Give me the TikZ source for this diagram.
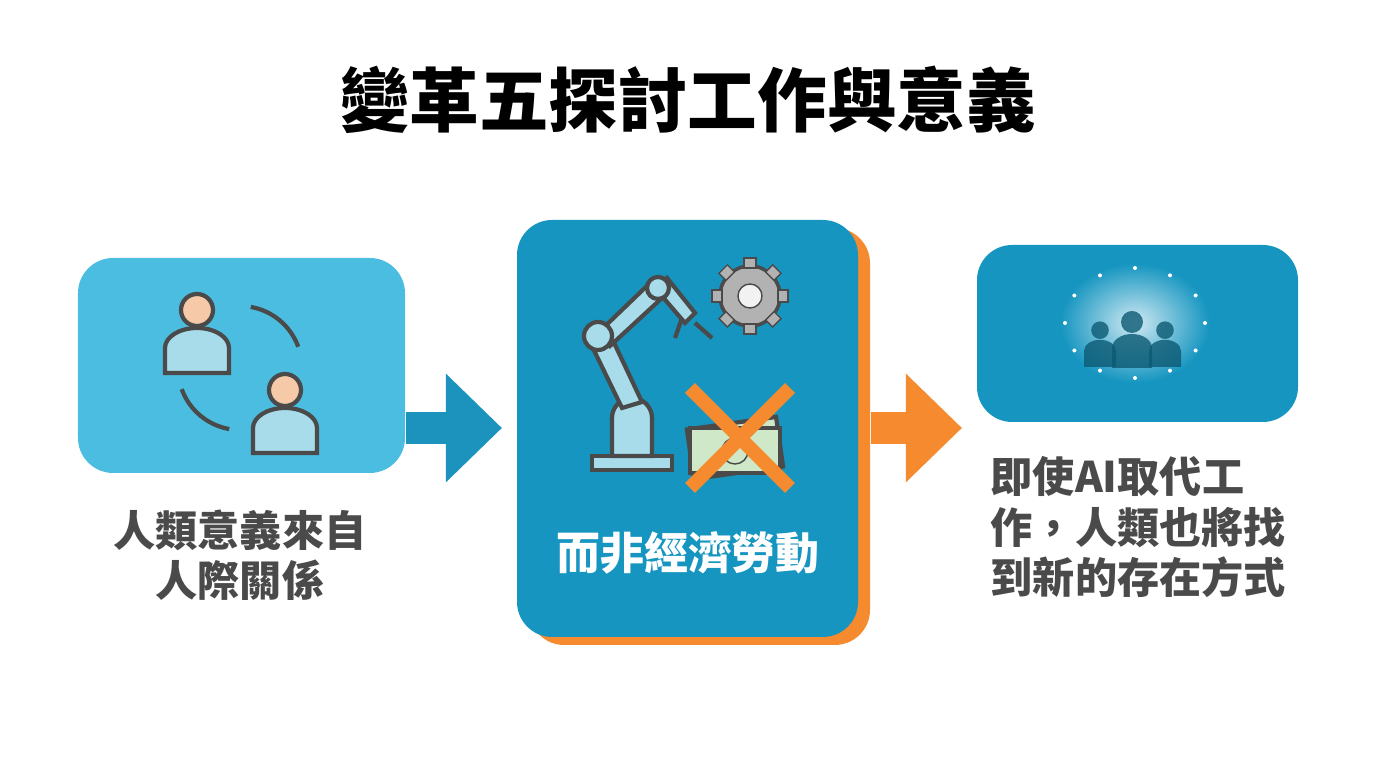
\documentclass[tikz,border=0pt]{standalone}
\usepackage{fontspec}
\newfontfamily\cjk{Noto Sans CJK TC}
\newcommand{\cjkb}{\cjk\bfseries}
\usetikzlibrary{arrows.meta, positioning}
\definecolor{lightblue}{HTML}{4ABDE0}
\definecolor{deepblue}{HTML}{1595C0}
\definecolor{arrowblue}{HTML}{1B93BD}
\definecolor{accentorange}{HTML}{F58A2E}
\definecolor{textgray}{HTML}{4A4A4A}
\definecolor{iconfill}{HTML}{A9DCEB}
\definecolor{skin}{HTML}{F6C9A8}
\definecolor{cash}{HTML}{CFE8C8}
\tikzstyle{panel} = [rectangle, rounded corners=10pt, inner sep=0pt]
\tikzstyle{caption} = [font=\cjkb\fontsize{12}{14.3}\selectfont, text=textgray, align=left, inner sep=0pt]
\tikzstyle{bigarrow} = [line width=9pt, -{Triangle[length=16pt, width=30pt]}]
\tikzstyle{icon} = [draw=textgray, line width=1.2pt]

\begin{document}
\begin{tikzpicture}[x=1cm, y=1cm]
\useasboundingbox (0,0) rectangle (13.76,7.68);

% title
\node (title) at (6.88,6.68) {\cjkb\fontsize{19.8}{22}\selectfont 變革五探討工作與意義};

% panels
\node (people) [panel, fill=lightblue, minimum width=3.27cm, minimum height=2.15cm] at (2.415,4.025) {};
\node (shadow) [panel, fill=accentorange, minimum width=3.41cm, minimum height=4.17cm] at (6.995,3.315) {};
\node (robot) [panel, fill=deepblue, minimum width=3.41cm, minimum height=4.17cm] at (6.875,3.395) {};
\node (mind) [panel, fill=deepblue, minimum width=3.21cm, minimum height=1.77cm] at (11.375,4.345) {};

% arrows
\draw [bigarrow, arrowblue] (people.east |- 0,3.4) -- (5.02,3.4);
\draw [bigarrow, accentorange] (shadow.east |- 0,3.4) -- (9.62,3.4);

% captions
\node (leftcap) [caption, align=center] at (2.4,2.13) {人類意義來自\\人際關係};
\node (midcap) [font=\cjkb\fontsize{12.5}{15}\selectfont, text=white] at (6.88,2.15) {而非經濟勞動};
\node (rightcap) [caption, anchor=north west] at (9.9,3.12) {即使AI取代工\\作，人類也將找\\到新的存在方式};

% people icon
\foreach \px/\py in {1.97/4.4, 2.85/3.6} {
  \fill [icon, fill=iconfill] (\px-0.32,\py-0.45) -- (\px-0.32,\py-0.2) arc (180:0:0.32 and 0.2) -- (\px+0.32,\py-0.45) -- cycle;
  \fill [icon, fill=skin] (\px,\py+0.18) circle (0.16);
}
\draw [icon] (2.4,4.0) ++(20:0.62) arc (20:80:0.62);
\draw [icon] (2.4,4.0) ++(200:0.62) arc (200:260:0.62);

% robot arm
\fill [icon, fill=iconfill] (5.92,2.98) rectangle (6.72,3.12);
\fill [icon, fill=iconfill] (6.12,3.12) -- (6.12,3.5) arc (180:0:0.2) -- (6.52,3.12) -- cycle;
\fill [icon, fill=iconfill] (6.22,3.6) -- (5.88,4.3) -- (6.08,4.38) -- (6.42,3.66) -- cycle;
\fill [icon, fill=iconfill] (5.98,4.35) -- (6.5,4.85) -- (6.62,4.7) -- (6.1,4.22) -- cycle;
\fill [icon, fill=iconfill] (6.55,4.8) -- (6.85,4.45) -- (6.95,4.55) -- (6.67,4.9) -- cycle;
\fill [icon, fill=iconfill] (5.98,4.32) circle (0.14);
\fill [icon, fill=iconfill] (6.58,4.8) circle (0.11);
\draw [icon] (6.82,4.5) -- (6.75,4.3) (6.95,4.45) -- (7.12,4.3);

% gear
\fill [draw=textgray, fill=gray!60, line width=1pt] (7.5,4.72) circle (0.3);
\foreach \a in {0,45,...,315}
  \fill [gray!60, draw=textgray, rotate around={\a:(7.5,4.72)}] (7.44,5.0) rectangle (7.56,5.1);
\fill [white!90!gray, draw=textgray] (7.5,4.72) circle (0.12);

% money and cross
\fill [icon, fill=cash, rotate around={8:(7.35,3.2)}] (6.9,2.95) rectangle (7.8,3.45);
\fill [icon, fill=cash] (6.9,2.95) rectangle (7.8,3.4);
\draw [textgray] (7.35,3.17) circle (0.13);
\draw [accentorange, line width=4pt] (6.9,2.8) -- (7.9,3.8) (6.9,3.8) -- (7.9,2.8);

% brain icon
\shade [inner color=white!80!deepblue, outer color=deepblue] (11.35,4.45) ellipse (0.75 and 0.6);
\foreach \px/\py/\s in {11.0/4.25/0.8, 11.65/4.25/0.8, 11.32/4.3/1} {
  \fill [deepblue!60!black, opacity=0.8] (\px-0.2*\s,\py-0.3*\s) -- (\px-0.2*\s,\py-0.1*\s) arc (180:0:{0.2*\s} and {0.14*\s}) -- (\px+0.2*\s,\py-0.3*\s) -- cycle;
  \fill [deepblue!60!black, opacity=0.8] (\px,\py+0.16*\s) circle ({0.11*\s});
}
\foreach \a in {0,30,...,330}
  \fill [white] (11.35,4.45) ++(\a:0.7 and 0.55) circle (0.02);

\end{tikzpicture}
\end{document}
